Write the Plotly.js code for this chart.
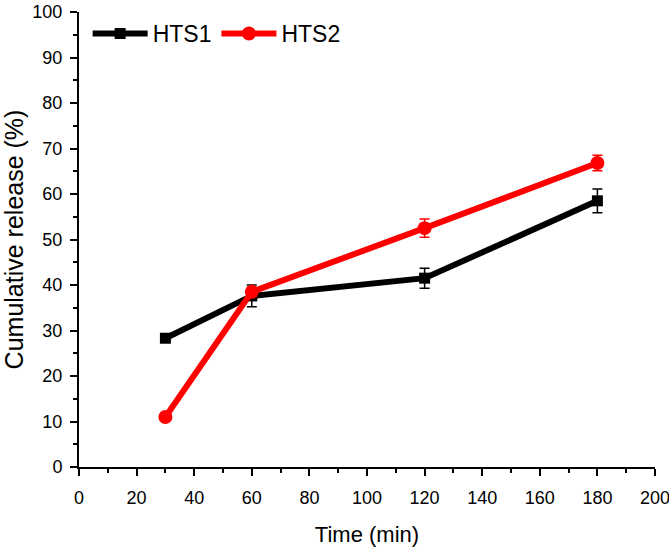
<!DOCTYPE html>
<html>
<head>
<meta charset="utf-8">
<script src="https://cdn.plot.ly/plotly-3.0.1.min.js"></script>
<style>html,body{margin:0;padding:0;background:#fff}#chart{width:669px;height:550px}</style>
</head>
<body>
<div id="chart"></div>
<script>
const time = [30, 60, 120, 180];
const hts1 = [28.3, 37.6, 41.5, 58.5];
const hts1Err = [0.5, 2.4, 2.2, 2.6];
const hts2 = [11.0, 38.5, 52.5, 66.8];
const hts2Err = [0.4, 1.0, 2.0, 1.7];
const xTicks = [0, 20, 40, 60, 80, 100, 120, 140, 160, 180, 200];
const yTicks = [0, 10, 20, 30, 40, 50, 60, 70, 80, 90, 100];

const traces = [
  {
    x: time, y: hts1, name: 'HTS1', type: 'scatter', mode: 'lines+markers',
    line: {color: '#000000', width: 6},
    marker: {symbol: 'square', size: 11, color: '#000000'},
    error_y: {type: 'data', array: hts1Err, visible: true, color: '#000000', thickness: 1.5, width: 5}
  },
  {
    x: time, y: hts2, name: 'HTS2', type: 'scatter', mode: 'lines+markers',
    line: {color: '#ff0000', width: 6},
    marker: {symbol: 'circle', size: 14, color: '#ff0000'},
    error_y: {type: 'data', array: hts2Err, visible: true, color: '#ff0000', thickness: 1.5, width: 5}
  }
];

const FAM = 'Liberation Sans, Arial, sans-serif';
const axisFont = {family: FAM, size: 18, color: '#000'};
const layout = {
  width: 669, height: 550,
  paper_bgcolor: '#fff', plot_bgcolor: '#fff',
  margin: {l: 79, r: 14, t: 12, b: 83},
  font: axisFont,
  showlegend: true,
  legend: {
    x: 0.015, y: 1.0, xanchor: 'left', yanchor: 'top', orientation: 'h',
    font: {family: FAM, size: 23, color: '#000'},
    bgcolor: 'rgba(0,0,0,0)', itemwidth: 55
  },
  xaxis: {
    range: [0, 200], tickvals: xTicks, ticktext: xTicks.map(String),
    showgrid: false, zeroline: false, showline: true, linecolor: '#000', linewidth: 2,
    ticks: 'outside', ticklen: 7, tickwidth: 2, tickcolor: '#000',
    minor: {ticks: 'outside', ticklen: 4, tickwidth: 2, tickcolor: '#000', dtick: 10, showgrid: false},
    tickfont: axisFont, ticklabeloverflow: 'allow', ticklabelstandoff: 6,
    title: {text: 'Time (min)', font: {family: FAM, size: 22, color: '#000'}, standoff: 20}
  },
  yaxis: {
    range: [0, 100], tickvals: yTicks, ticktext: yTicks.map(String),
    showgrid: false, zeroline: false, showline: true, linecolor: '#000', linewidth: 2,
    ticks: 'outside', ticklen: 7, tickwidth: 2, tickcolor: '#000',
    minor: {ticks: 'outside', ticklen: 4, tickwidth: 2, tickcolor: '#000', dtick: 5, showgrid: false},
    tickfont: axisFont, ticklabelstandoff: 4,
    title: {text: 'Cumulative release (%)', font: {family: FAM, size: 25, color: '#000'}, standoff: 7}
  }
};

Plotly.newPlot('chart', traces, layout, {staticPlot: true, displayModeBar: false});
</script>
</body>
</html>
